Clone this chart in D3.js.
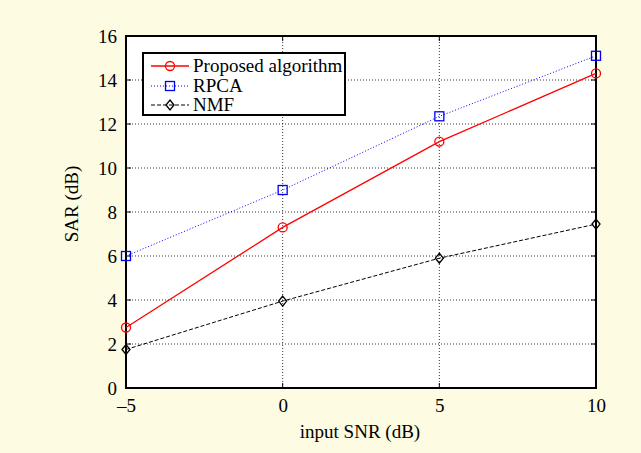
<!DOCTYPE html>
<html><head><meta charset="utf-8">
<script src="https://cdn.jsdelivr.net/npm/d3@7"></script>
<style>body{margin:0;background:#fdfbe1;} svg{display:block;}</style>
</head><body>
<svg id="c" width="641" height="453"></svg>
<script>
const snr = [-5, 0, 5, 10];
const proposed = [2.75, 7.3, 11.2, 14.3];
const rpca = [6.0, 9.0, 12.35, 15.1];
const nmf = [1.75, 3.95, 5.9, 7.45];
const xTicks = [-5, 0, 5, 10];
const yTicks = [0, 2, 4, 6, 8, 10, 12, 14, 16];
const seriesNames = ["Proposed algorithm", "RPCA", "NMF"];

const svg = d3.select("#c");
const L = 126, R = 596, T = 36, B = 388;
const x = d3.scaleLinear().domain([-5, 10]).range([L, R]);
const y = d3.scaleLinear().domain([0, 16]).range([B, T]);
const font = "'Liberation Serif', 'Times New Roman', serif";
const fs = 19;

svg.append("rect").attr("width", 641).attr("height", 453).attr("fill", "#fdfbe1");
svg.append("rect").attr("x", L).attr("y", T).attr("width", R - L).attr("height", B - T).attr("fill", "#fff");

// grid
const g = svg.append("g");
yTicks.slice(1, -1).forEach(v => g.append("line").attr("x1", L).attr("x2", R).attr("y1", y(v)).attr("y2", y(v))
  .attr("stroke", "#000").attr("stroke-width", 0.8).attr("stroke-dasharray", "1,2"));
xTicks.slice(1, -1).forEach(v => g.append("line").attr("y1", T).attr("y2", B).attr("x1", x(v)).attr("x2", x(v))
  .attr("stroke", "#000").attr("stroke-width", 0.8).attr("stroke-dasharray", "1,2"));

// inward ticks on all four sides
const tl = 5;
yTicks.forEach(v => {
  g.append("line").attr("x1", L).attr("x2", L + tl).attr("y1", y(v)).attr("y2", y(v)).attr("stroke", "#000");
  g.append("line").attr("x1", R).attr("x2", R - tl).attr("y1", y(v)).attr("y2", y(v)).attr("stroke", "#000");
});
xTicks.forEach(v => {
  g.append("line").attr("y1", B).attr("y2", B - tl).attr("x1", x(v)).attr("x2", x(v)).attr("stroke", "#000");
  g.append("line").attr("y1", T).attr("y2", T + tl).attr("x1", x(v)).attr("x2", x(v)).attr("stroke", "#000");
});

// axes via d3 (labels only)
const yAxis = d3.axisLeft(y).tickValues(yTicks).tickSize(0).tickPadding(9).tickFormat(d3.format("d"));
const ya = svg.append("g").attr("transform", `translate(${L},0)`).call(yAxis);
const xAxis = d3.axisBottom(x).tickValues(xTicks).tickSize(0).tickPadding(10)
  .tickFormat(d => d < 0 ? "\u2013" + Math.abs(d) : d);
const xa = svg.append("g").attr("transform", `translate(0,${B})`).call(xAxis);
[ya, xa].forEach(a => {
  a.select(".domain").remove();
  a.selectAll("text").attr("font-family", font).attr("font-size", fs).attr("fill", "#000");
});
ya.selectAll("text").attr("dy", "0.34em");
xa.selectAll("text").attr("dy", "0.72em");

// box
svg.append("rect").attr("x", L).attr("y", T).attr("width", R - L).attr("height", B - T)
  .attr("fill", "none").attr("stroke", "#000").attr("stroke-width", 2);

// series
const series = [
  {name: seriesNames[0], vals: proposed, color: "#ff0000", dash: null, marker: "circle", w: 1.3},
  {name: seriesNames[1], vals: rpca, color: "#0000ff", dash: "1,2", marker: "square", w: 1},
  {name: seriesNames[2], vals: nmf, color: "#000000", dash: "4,2", marker: "diamond", w: 1},
];
const line = d3.line().x((d, i) => x(snr[i])).y(d => y(d));
function marker(sel, type, cx, cy, color) {
  if (type === "circle") sel.append("circle").attr("cx", cx).attr("cy", cy).attr("r", 4.5)
    .attr("fill", "none").attr("stroke", color).attr("stroke-width", 1.3);
  else if (type === "square") sel.append("rect").attr("x", cx - 4.5).attr("y", cy - 4.5).attr("width", 9).attr("height", 9)
    .attr("fill", "none").attr("stroke", color).attr("stroke-width", 1.3);
  else sel.append("path").attr("d", `M${cx},${cy - 5}L${cx + 4},${cy}L${cx},${cy + 5}L${cx - 4},${cy}Z`)
    .attr("fill", "none").attr("stroke", color).attr("stroke-width", 1.3);
}
series.forEach(s => {
  svg.append("path").datum(s.vals).attr("d", line).attr("fill", "none").attr("stroke", s.color)
    .attr("stroke-width", s.w).attr("stroke-dasharray", s.dash);
  s.vals.forEach((v, i) => marker(svg, s.marker, x(snr[i]), y(v), s.color));
});

// legend
const lg = svg.append("g");
lg.append("rect").attr("x", 143).attr("y", 53).attr("width", 202).attr("height", 62)
  .attr("fill", "#fff").attr("stroke", "#000").attr("stroke-width", 2);
const rowsY = [66, 86, 105];
series.forEach((s, i) => {
  const yy = rowsY[i];
  lg.append("line").attr("x1", 151).attr("x2", 189).attr("y1", yy).attr("y2", yy)
    .attr("stroke", s.color).attr("stroke-width", s.w).attr("stroke-dasharray", s.dash);
  marker(lg, s.marker, 170, yy, s.color);
  lg.append("text").attr("x", 193).attr("y", yy + 6).text(s.name)
    .attr("font-family", font).attr("font-size", fs).attr("fill", "#000");
});

// axis titles
svg.append("text").attr("x", 360).attr("y", 438).attr("text-anchor", "middle").text("input SNR (dB)")
  .attr("font-family", font).attr("font-size", fs);
svg.append("text").attr("transform", "translate(78,204) rotate(-90)").attr("text-anchor", "middle").text("SAR (dB)")
  .attr("font-family", font).attr("font-size", fs);
</script>
</body></html>
